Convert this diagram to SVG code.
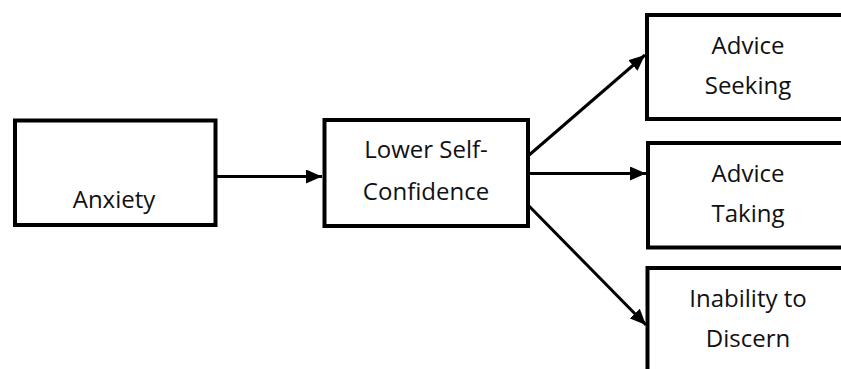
<svg xmlns="http://www.w3.org/2000/svg" width="841" height="369" viewBox="0 0 841 369">
<style>
.box{fill:#fff;stroke:#000;stroke-width:4}
.lbl{font-family:"Open Sans","Liberation Sans",sans-serif;font-size:24px;fill:#111;text-anchor:middle}
.conn{stroke:#000;stroke-width:3;fill:none;marker-end:url(#ah)}
</style>
<defs>
<marker id="ah" markerUnits="userSpaceOnUse" markerWidth="18" markerHeight="14" refX="16" refY="7" orient="auto">
<path d="M0,0 L16,7 L0,14 Z" fill="#000"/>
</marker>
</defs>
<g id="connectors">
<line class="conn" x1="217" y1="176.5" x2="322" y2="176.5"/>
<line class="conn" x1="528" y1="156" x2="645" y2="55"/>
<line class="conn" x1="528" y1="173.5" x2="646" y2="173.5"/>
<line class="conn" x1="528" y1="205" x2="646" y2="325"/>
</g>
<g id="anxiety">
<rect class="box" x="15" y="120.5" width="200.5" height="104.5"/>
<text class="lbl" x="114" y="208">Anxiety</text>
</g>
<g id="lower-self-confidence">
<rect class="box" x="324.5" y="120" width="203.5" height="106"/>
<text class="lbl" x="426" y="158">Lower Self-</text>
<text class="lbl" x="426" y="200">Confidence</text>
</g>
<g id="advice-seeking">
<rect class="box" x="647" y="15" width="220" height="104"/>
<text class="lbl" x="748" y="54">Advice</text>
<text class="lbl" x="748" y="94">Seeking</text>
</g>
<g id="advice-taking">
<rect class="box" x="648" y="143" width="220" height="104.5"/>
<text class="lbl" x="748" y="181.5">Advice</text>
<text class="lbl" x="748" y="221.5">Taking</text>
</g>
<g id="inability-to-discern">
<rect class="box" x="647.5" y="268" width="220" height="120"/>
<text class="lbl" x="748" y="306.5">Inability to</text>
<text class="lbl" x="748" y="347">Discern</text>
</g>
</svg>
